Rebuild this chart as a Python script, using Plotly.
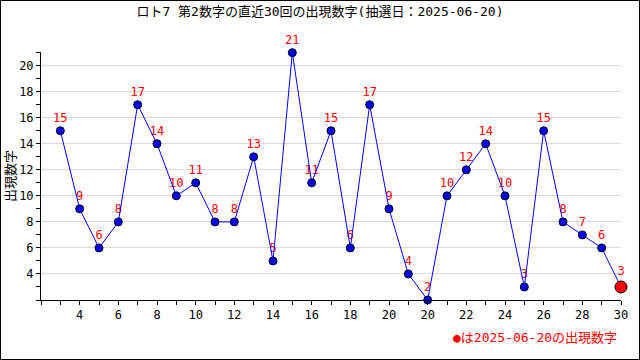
import plotly.graph_objects as go

# Data
draw_index = list(range(1, 31))
values = [15, 9, 6, 8, 17, 14, 10, 11, 8, 8, 13, 5, 21, 11, 15, 6, 17, 9, 4, 2,
          10, 12, 14, 10, 3, 15, 8, 7, 6, 3]
x_tickvals = list(range(2, 31, 2))
x_ticktext = ["4", "6", "8", "10", "12", "14", "16", "18", "20", "20",
              "22", "24", "26", "28", "30"]
title_text = "ロト7 第2数字の直近30回の出現数字(抽選日：2025-06-20)"
y_title = "出現数字"
note_text = "●は2025-06-20の出現数字"

FONT = "DejaVu Sans Mono, Noto Sans CJK JP, sans-serif"

W, H = 640, 360
L, R, T, B = 41, 19, 52, 60
pw, ph = W - L - R, H - T - B

fig = go.Figure()

# value labels (drawn first, so the line passes over them)
fig.add_trace(go.Scatter(
    x=draw_index, y=values, mode="markers+text",
    text=[str(v) for v in values], textposition="top center",
    textfont=dict(color="#ff0000", size=12, family=FONT),
    marker=dict(size=[8] * 29 + [12], color="rgba(0,0,0,0)"),
    hoverinfo="skip", showlegend=False, cliponaxis=False,
))
fig.add_trace(go.Scatter(
    x=draw_index, y=values, mode="lines",
    line=dict(color="#0000ff", width=1), hoverinfo="skip", showlegend=False,
    cliponaxis=False,
))
fig.add_trace(go.Scatter(
    x=draw_index[:-1], y=values[:-1], mode="markers",
    marker=dict(color="#0000ff", size=8, line=dict(color="black", width=1)),
    showlegend=False, cliponaxis=False,
))
fig.add_trace(go.Scatter(
    x=draw_index[-1:], y=values[-1:], mode="markers",
    marker=dict(color="#ff0000", size=12, line=dict(color="black", width=1)),
    showlegend=False, cliponaxis=False,
))

fig.update_layout(
    width=W, height=H,
    margin=dict(l=L, r=R, t=T, b=B, autoexpand=False),
    paper_bgcolor="white", plot_bgcolor="white",
    font=dict(family=FONT, size=12, color="black"),
    title=dict(text=title_text, x=0.5, xref="container", xanchor="center",
               y=1 - 11 / H, yref="container", yanchor="middle",
               automargin=False,
               font=dict(size=13, color="black", family=FONT)),
    xaxis=dict(range=[0, 30], tickvals=x_tickvals, ticktext=x_ticktext,
               automargin=False,
               showgrid=False, zeroline=False, showline=True,
               linecolor="black", linewidth=1,
               ticks="outside", ticklen=4, tickcolor="black",
               minor=dict(ticks="outside", dtick=1, tick0=0, ticklen=4,
                          tickcolor="black", showgrid=False),
               tickfont=dict(size=12, color="black", family=FONT)),
    yaxis=dict(range=[2, 21.05], tickvals=list(range(4, 21, 2)),
               automargin=False,
               showgrid=True, gridcolor="#d9d9d9", gridwidth=1,
               zeroline=False, showline=True, linecolor="black", linewidth=1,
               ticks="outside", ticklen=4, tickcolor="black",
               minor=dict(ticks="outside", dtick=1, tick0=0, ticklen=4,
                          tickcolor="black", showgrid=False),
               tickfont=dict(size=12, color="black", family=FONT)),
)

fig.add_annotation(text=y_title, textangle=-90, x=(10 - L) / pw, y=0.5,
                   xref="paper", yref="paper", showarrow=False,
                   font=dict(size=13, color="black", family=FONT),
                   xanchor="center", yanchor="middle")
fig.add_annotation(text=note_text, x=(619 - L) / pw, y=(300 - 337) / ph,
                   xref="paper", yref="paper", showarrow=False,
                   font=dict(size=13, color="#ff0000", family=FONT),
                   xanchor="right", yanchor="middle")

fig.add_shape(type="rect", xref="paper", yref="paper",
              x0=(0.5 - L) / pw, x1=(639.5 - L) / pw,
              y0=(300 - 359.5) / ph, y1=(300 - 0.5) / ph,
              line=dict(color="black", width=1), fillcolor="rgba(0,0,0,0)",
              layer="below")

fig.write_html(
    "out.html",
    config={"displayModeBar": False},
    post_script="document.body.style.margin='0';document.body.style.padding='0';"
                "document.body.style.overflow='hidden';",
)
